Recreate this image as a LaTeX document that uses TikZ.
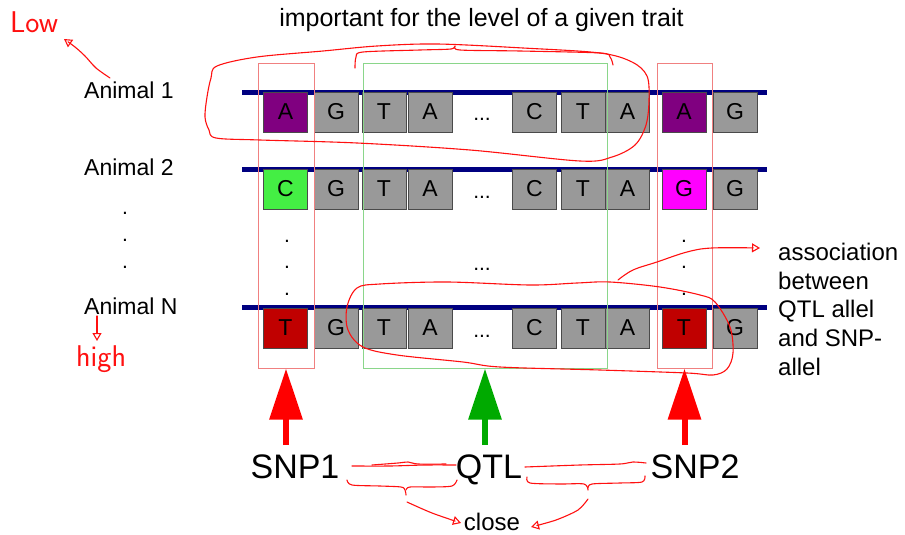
\documentclass[tikz,border=0pt]{standalone}
\usepackage{fontspec}
\setmainfont{Liberation Sans}
\usetikzlibrary{arrows.meta}
\definecolor{navyline}{HTML}{000080}
\definecolor{boxgray}{HTML}{999999}
\definecolor{boxedge}{HTML}{4A4A4A}
\definecolor{snpA}{HTML}{800080}
\definecolor{snpC}{HTML}{44EE44}
\definecolor{snpG}{HTML}{FF00FF}
\definecolor{snpT}{HTML}{C00000}
\definecolor{colred}{HTML}{F08080}
\definecolor{colgreen}{HTML}{8AD68A}
\definecolor{ink}{HTML}{FF1010}
\definecolor{arrowred}{HTML}{FF0000}
\definecolor{arrowgreen}{HTML}{00AA00}
\begin{document}
\begin{tikzpicture}[x=1pt,y=-1pt,
  basebox/.style={draw=boxedge, line width=0.9pt, fill=boxgray, minimum width=44pt,
    minimum height=40pt, inner sep=0pt, font=\fontsize{23}{23}\selectfont},
  strand/.style={navyline, line width=5pt},
  colbox/.style={draw=colred, line width=1pt, minimum height=304pt, inner sep=0pt},
  qtlbox/.style={draw=colgreen, line width=1pt, minimum height=304pt, inner sep=0pt},
  label/.style={inner sep=0pt, font=\fontsize{23}{23}\selectfont},
  bigtext/.style={inner sep=0pt, font=\fontsize{34}{34}\selectfont},
  dotmark/.style={inner sep=0pt, anchor=base, font=\fontsize{21}{21}\selectfont},
  bigarrow/.style={line width=6pt, -{Triangle[length=51pt,width=32pt]}},
  hand/.style={ink, line width=1.1pt, line cap=round, line join=round},
  handtip/.style={hand, -{Triangle[open, length=8pt, width=9pt]}},
  handtext/.style={ink, inner sep=0pt, anchor=base west,
    font=\sffamily\fontsize{30}{30}\selectfont\addfontfeature{LetterSpace=15}}
]
\useasboundingbox (0,0) rectangle (905,535);

% title
\node[inner sep=0pt, anchor=base, font=\fontsize{25}{25}\selectfont] (title) at (481.5,27)
  {important for the level of a given trait};

% animal labels
\node[label, anchor=base west] (a1) at (84,98) {Animal 1};
\node[label, anchor=base west] (a2) at (84,175) {Animal 2};
\node[label, anchor=base west] (aN) at (84,314) {Animal N};
\foreach \y [count=\i] in {214,241,268}
  \node[dotmark] (ad\i) at (125,\y) {.};

% strands
\draw[strand] (242,92) -- (767,92);
\draw[strand] (242,169) -- (767,169);
\draw[strand] (242,307) -- (767,307);

% row 1
\foreach \x/\l/\c [count=\i] in {285.5/A/snpA,336/G/boxgray,384/T/boxgray,430/A/boxgray,
   534.5/C/boxgray,583/T/boxgray,627.5/A/boxgray,684/A/snpA,735/G/boxgray}
  \node[basebox, fill=\c] (ra\i) at (\x,112) {\l};
% row 2
\foreach \x/\l/\c [count=\i] in {285.5/C/snpC,336/G/boxgray,384/T/boxgray,430/A/boxgray,
   534.5/C/boxgray,583/T/boxgray,627.5/A/boxgray,684/G/snpG,735/G/boxgray}
  \node[basebox, fill=\c] (rb\i) at (\x,189) {\l};
% row N
\foreach \x/\l/\c [count=\i] in {285.5/T/snpT,336/G/boxgray,384/T/boxgray,430/A/boxgray,
   534.5/C/boxgray,583/T/boxgray,627.5/A/boxgray,684/T/snpT,735/G/boxgray}
  \node[basebox, fill=\c] (rn\i) at (\x,328) {\l};

% ellipses
\node[dotmark] (e1) at (482,121) {...};
\node[dotmark] (e2) at (482,198) {...};
\node[dotmark] (e3) at (482,270) {...};
\node[dotmark] (e4) at (482,337) {...};
\foreach \y [count=\i] in {242,268,295} {
  \node[dotmark] (ld\i) at (287,\y) {.};
  \node[dotmark] (rd\i) at (684,\y) {.};
}

% columns
\node[colbox, minimum width=56pt] (col1) at (286,216) {};
\node[colbox, minimum width=55pt] (col2) at (684.5,216) {};
\node[qtlbox, minimum width=244pt] (qtl) at (485,216) {};

% bottom labels
\node[bigtext, anchor=base] (snp1) at (295,478) {SNP1};
\node[bigtext, anchor=base] (qtlt) at (489,478) {QTL};
\node[bigtext, anchor=base] (snp2) at (695,478) {SNP2};

\draw[bigarrow, arrowred, shorten <=9pt] (col1.south |- snp1.north) -- (col1.south);
\draw[bigarrow, arrowgreen, shorten <=9pt] (qtl.south |- qtlt.north) -- (qtl.south);
\draw[bigarrow, arrowred, shorten <=9pt] (col2.south |- snp2.north) -- (col2.south);

% association text
\node[inner sep=0pt, anchor=north west, align=left,
  font=\fontsize{24}{28.7}\selectfont] (assoc) at (778,243)
  {association\\between\\QTL allel\\and SNP-\\allel};

\node[inner sep=0pt, anchor=base, font=\fontsize{24}{24}\selectfont] (close) at (492,530) {close};

% handwritten annotations
\node[handtext] (low) at (10,33) {Low};
\node[handtext] (high) at (76,366) {high};

\draw[handtip] plot[smooth] coordinates {(110,78) (96,68) (85,56) (75,47) (64,39)};
\draw[handtip] (97,316) -- (97,341);

% loop around animal 1
\draw[hand] plot[smooth cycle, tension=0.55] coordinates {
  (217,66) (257,57) (323,51) (377,46) (437,44) (523,48) (600,53) (632,62)
  (647,76) (649,100) (646,125) (635,145) (612,157) (580,161) (470,150)
  (357,143) (260,140) (216,138) (209,130) (205,117) (207,97) (211,78)};
% brace over QTL
\draw[hand] plot[smooth, tension=0.5] coordinates {
  (355,68) (356,57) (363,52) (420,50) (451,49) (455,46) (460,50) (520,51)
  (600,53) (610,57) (613,65)};
% loop around animal N
\draw[hand] plot[smooth cycle, tension=0.55] coordinates {
  (357,288) (380,284) (447,282) (530,285) (577,283) (610,282) (660,287)
  (700,295) (715,302) (730,327) (733,353) (727,369) (713,375) (687,373)
  (600,370) (500,367) (463,362) (397,355) (363,347) (348,330) (347,307)};
% association arrow
\draw[handtip] plot[smooth, tension=0.6] coordinates {
  (618,280) (633,270) (657,262) (687,252) (712,248) (760,248)};

% SNP1 - QTL
\draw[hand] plot[smooth] coordinates {(352,466) (390,466) (425,465) (456,465)};
\draw[hand] plot[smooth] coordinates {(372,465) (398,463) (408,462) (418,464) (446,464)};
\draw[hand] plot[smooth, tension=0.5] coordinates {(347,480) (352,485) (380,486) (401,487) (405,490) (406,495)};
\draw[hand] plot[smooth, tension=0.5] coordinates {(406,490) (410,487) (432,487) (452,486) (457,480)};
\draw[handtip] plot[smooth] coordinates {(407,502) (432,513) (461,523)};

% QTL - SNP2
\draw[hand] plot[smooth] coordinates {(525,467) (580,465) (620,464) (633,462) (646,463)};
\draw[hand] plot[smooth, tension=0.5] coordinates {(527,477) (530,483) (560,484) (584,484) (588,490)};
\draw[hand] plot[smooth, tension=0.5] coordinates {(588,488) (592,484) (620,483) (642,482) (645,476)};
\draw[handtip] plot[smooth] coordinates {(588,499) (578,510) (556,520) (531,527)};
\end{tikzpicture}
\end{document}
